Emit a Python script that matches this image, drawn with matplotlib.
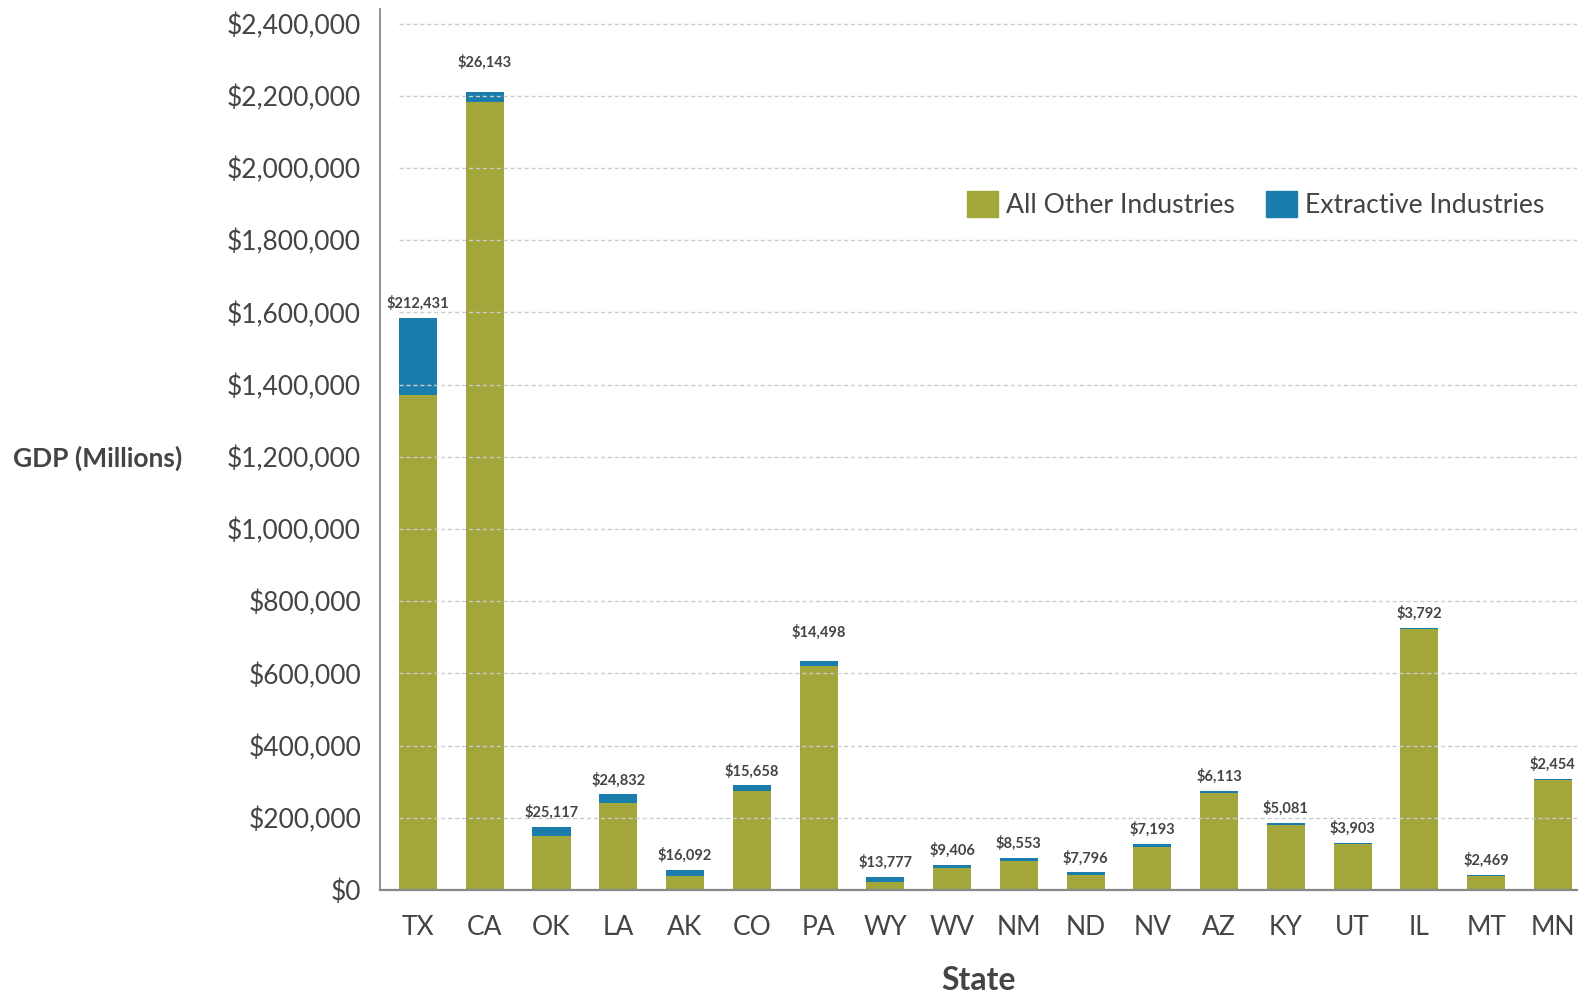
import matplotlib
matplotlib.use('Agg')
import matplotlib.pyplot as plt
from matplotlib.patches import Patch
import numpy as np

plt.rcParams['font.family'] = ['Lato', 'DejaVu Sans']

# GDP by state, millions of dollars
states = ['TX', 'CA', 'OK', 'LA', 'AK', 'CO', 'PA', 'WY', 'WV',
          'NM', 'ND', 'NV', 'AZ', 'KY', 'UT', 'IL', 'MT', 'MN']
other = [1372000, 2184000, 150000, 240000, 40000, 274000, 620000, 22000, 60000,
         81000, 41000, 120000, 269000, 180000, 127000, 723000, 39000, 305000]
extractive = [212431, 26143, 25117, 24832, 16092, 15658, 14498, 13777, 9406,
              8553, 7796, 7193, 6113, 5081, 3903, 3792, 2469, 2454]
yticks = np.arange(0, 2400001, 200000)

green = '#a2a63b'
blue = '#1b7dac'
txt = '#444444'

# a couple of labels sit higher in the original
label_lift = {'CA': 11, 'PA': 10}

fig = plt.figure(figsize=(15.85, 9.97), dpi=100)
ax = fig.add_axes([0.2397, 0.1073, 0.7552, 0.8836])

x = np.arange(len(states))
w = 0.57
ax.bar(x, other, width=w, color=green, zorder=2, label='All Other Industries')
ax.bar(x, extractive, width=w, bottom=other, color=blue, zorder=2,
       label='Extractive Industries')

# value labels on top of each stack
for i in range(len(states)):
    ax.annotate('${:,}'.format(extractive[i]), (x[i], other[i] + extractive[i]),
                xytext=(0, 5 + label_lift.get(states[i], 0)), textcoords='offset points',
                ha='center', va='bottom', fontsize=10.5, fontweight='bold', color=txt)

# dashed grid drawn over the bars
ax.hlines(yticks[1:], -0.29, 17.36, colors='#cccccc', linestyles=(0, (3, 2)),
          linewidth=1, zorder=3)

ax.set_xlim(-0.57, 17.36)
ax.set_ylim(0, 2440000)
ax.set_yticks(yticks)
ax.set_yticklabels(['${:,}'.format(v) for v in yticks])
ax.set_xticks(x)
ax.set_xticklabels(states)
ax.tick_params(axis='y', length=0, pad=13.5, labelsize=19, labelcolor=txt)
ax.tick_params(axis='x', length=0, pad=18, labelsize=19, labelcolor=txt)

for s in ['top', 'right']:
    ax.spines[s].set_visible(False)
ax.spines['left'].set_color('#888888')
ax.spines['bottom'].set_color('#888888')
ax.spines['left'].set_linewidth(1.3)
ax.spines['bottom'].set_linewidth(1.6)

ax.set_xlabel('State', fontsize=23, fontweight='bold', color=txt, labelpad=19)
fig.text(98 / 1585, 1 - 458 / 997, 'GDP (Millions)', fontsize=19, fontweight='bold',
         color=txt, ha='center', va='center')

handles = [Patch(color=green), Patch(color=blue)]
ax.legend(handles, ['All Other Industries', 'Extractive Industries'], loc='center right',
          bbox_to_anchor=(0.993, 0.778), ncol=2, frameon=False, fontsize=19.2,
          handlelength=1.15, handleheight=1.15, handletextpad=0.3, columnspacing=1.2,
          labelcolor=txt)

plt.savefig('out.png', dpi=100)
